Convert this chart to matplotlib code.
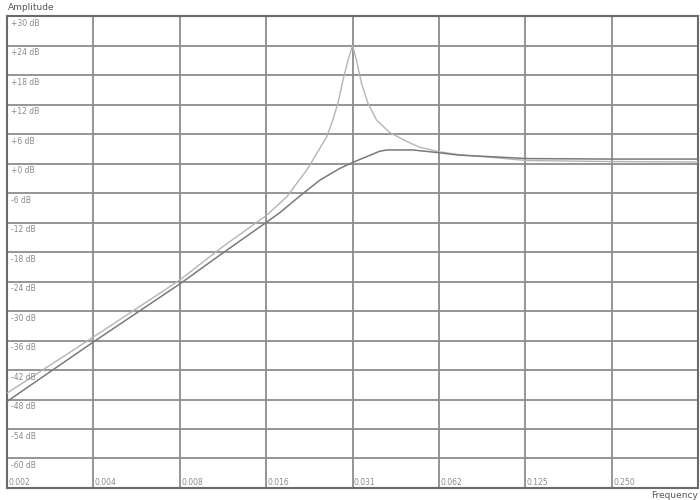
import matplotlib
matplotlib.use('Agg')
import matplotlib.pyplot as plt
import matplotlib.transforms as mtransforms

# ---- data ----
freq_ticks = [2**-9, 2**-8, 2**-7, 2**-6, 2**-5, 2**-4, 2**-3, 2**-2]
freq_labels = ['0.002', '0.004', '0.008', '0.016', '0.031', '0.062', '0.125', '0.250']
db_ticks = [30, 24, 18, 12, 6, 0, -6, -12, -18, -24, -30, -36, -42, -48, -54, -60]
db_labels = ['+30 dB', '+24 dB', '+18 dB', '+12 dB', '+6 dB', '+0 dB', '-6 dB', '-12 dB',
             '-18 dB', '-24 dB', '-30 dB', '-36 dB', '-42 dB', '-48 dB', '-54 dB', '-60 dB']

# resonant response (light curve)
res_freq = [0.001953, 0.003906, 0.007813, 0.01104, 0.01571, 0.01845, 0.02000, 0.02167,
            0.02348, 0.02542, 0.02668, 0.02778, 0.02892, 0.03008, 0.03125, 0.03226,
            0.03359, 0.03540, 0.03789, 0.04213, 0.04829, 0.05358, 0.06241, 0.07355,
            0.1017, 0.1264, 0.25, 0.5]
res_db = [-46.7, -35.3, -23.7, -16.9, -10.5, -6.75, -4.0, -1.3,
          2.1, 5.45, 8.85, 12.2, 16.8, 20.8, 24.0, 21.0,
          16.3, 12.2, 8.85, 6.3, 4.5, 3.3, 2.4, 1.8,
          1.1, 0.6, 0.4, 0.3]

# non-resonant response (dark curve)
flat_freq = [0.001953, 0.003906, 0.007813, 0.01104, 0.01571, 0.01744, 0.02049, 0.02403,
             0.02822, 0.03125, 0.03503, 0.03891, 0.04115, 0.05069, 0.06241, 0.07355,
             0.1017, 0.1264, 0.25, 0.5]
flat_db = [-48.4, -36.3, -24.5, -18.2, -11.9, -10.0, -6.6, -3.4,
           -1.0, 0.2, 1.4, 2.5, 2.75, 2.75, 2.2, 1.7,
           1.3, 1.0, 0.9, 0.9]

# ---- figure ----
fig = plt.figure(figsize=(7, 5), dpi=100)
W, H = 700, 500
ax = fig.add_axes([7 / W, (H - 488) / H, 691 / W, 472 / H])
ax.set_xscale('log', base=2)
ax.set_xlim(2**-9, 2**-1)
ax.set_ylim(-66, 30)

grid_col = '#8c8c8c'
for f in freq_ticks[1:]:
    ax.axvline(f, color=grid_col, lw=1.3, zorder=1)
for d in db_ticks:
    ax.axhline(d, color=grid_col, lw=1.3, zorder=1)

ax.plot(res_freq, res_db, color='#b4b4b4', lw=1.0, zorder=3)
ax.plot(flat_freq, flat_db, color='#7a7a7a', lw=1.1, zorder=4)

ax.set_xticks([])
ax.set_yticks([])
ax.minorticks_off()
for s in ax.spines.values():
    s.set_color('#6a6a6a')
    s.set_linewidth(1.5)

lab_col = '#8a8a8a'
ytr = mtransforms.offset_copy(mtransforms.blended_transform_factory(ax.transAxes, ax.transData),
                              fig=fig, x=3, y=-2, units='points')
for d, lab in zip(db_ticks, db_labels):
    ax.text(0, d, lab, transform=ytr, ha='left', va='top', fontsize=5.5,
            color=lab_col, family='DejaVu Sans', zorder=5)

xtr = mtransforms.offset_copy(mtransforms.blended_transform_factory(ax.transData, ax.transAxes),
                              fig=fig, x=1, y=1, units='points')
for f, lab in zip(freq_ticks, freq_labels):
    ax.text(f, 0, lab, transform=xtr, ha='left', va='bottom', fontsize=5.5,
            color=lab_col, family='DejaVu Sans', zorder=5)

fig.text(8 / W, 1 - 3 / H, 'Amplitude', ha='left', va='top', fontsize=6.5,
         color='#555555', family='DejaVu Sans')
fig.text(698 / W, 1 - 491 / H, 'Frequency', ha='right', va='top', fontsize=6.5,
         color='#555555', family='DejaVu Sans')

fig.savefig('out.png', dpi=100, facecolor='white')
